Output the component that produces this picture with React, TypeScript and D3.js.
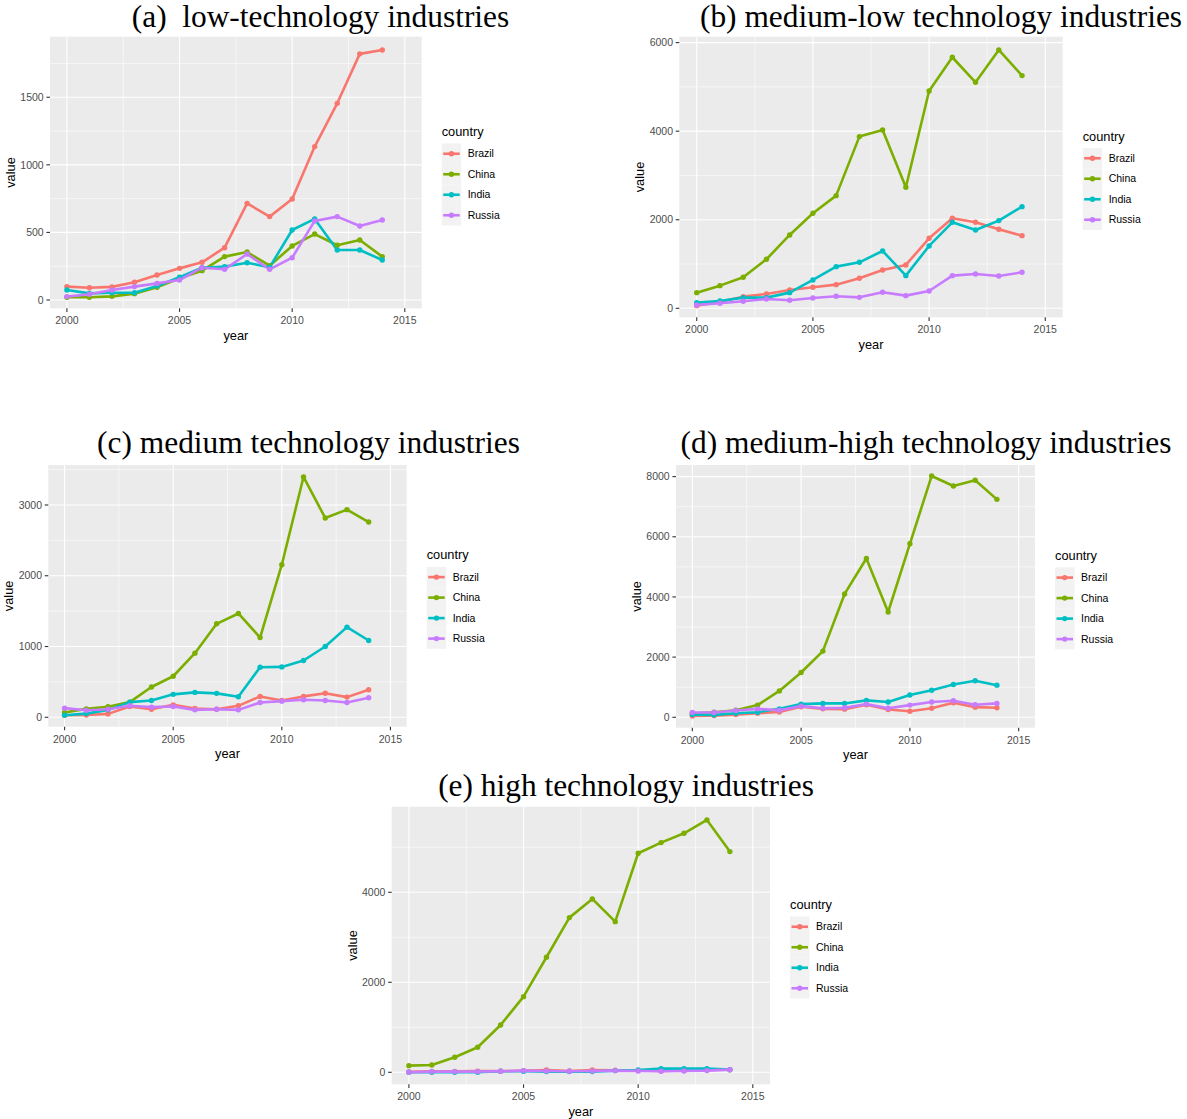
import React from "react";
import * as d3 from "d3";

// ---------- data ----------
const years = [2000, 2001, 2002, 2003, 2004, 2005, 2006, 2007, 2008, 2009, 2010, 2011, 2012, 2013, 2014];
const countries = ["Brazil", "China", "India", "Russia"];
const countryColors = ["#F8766D", "#7CAE00", "#00BFC4", "#C77CFF"];
const xTicks = [2000, 2005, 2010, 2015];
const xMinor = [2002.5, 2007.5, 2012.5];

// (a) low-technology
const lowBrazil = [99, 91, 97, 131, 185, 234, 279, 387, 715, 617, 747, 1135, 1455, 1821, 1850];
const lowChina = [20, 20, 27, 47, 94, 160, 217, 321, 355, 254, 400, 488, 405, 444, 321];
const lowIndia = [74, 49, 54, 54, 104, 168, 239, 247, 276, 242, 518, 600, 370, 370, 296];
const lowRussia = [25, 42, 74, 99, 123, 148, 239, 227, 340, 227, 313, 585, 617, 548, 592];
const lowTicks = [0, 500, 1000, 1500];

// (b) medium-low technology
const medLowBrazil = [60, 150, 263, 324, 414, 474, 534, 678, 866, 979, 1581, 2033, 1942, 1784, 1641];
const medLowChina = [354, 512, 700, 1107, 1656, 2145, 2544, 3877, 4027, 2733, 4908, 5669, 5104, 5834, 5255];
const medLowIndia = [128, 166, 241, 241, 354, 640, 941, 1039, 1295, 738, 1408, 1942, 1769, 1980, 2296];
const medLowRussia = [75, 113, 158, 211, 181, 233, 271, 248, 361, 286, 391, 738, 775, 730, 813];
const medLowTicks = [0, 2000, 4000, 6000];

// (c) medium technology
const medBrazil = [29, 33, 48, 152, 114, 176, 124, 114, 162, 295, 238, 295, 340, 285, 390];
const medChina = [67, 119, 148, 214, 428, 580, 906, 1321, 1467, 1127, 2156, 3396, 2816, 2934, 2759];
const medIndia = [29, 52, 105, 214, 238, 324, 352, 338, 290, 708, 712, 802, 1000, 1274, 1085];
const medRussia = [129, 100, 114, 162, 143, 152, 105, 114, 105, 209, 228, 248, 238, 209, 276];
const medTicks = [0, 1000, 2000, 3000];

// (d) medium-high technology
const medHighBrazil = [45, 56, 90, 135, 180, 348, 281, 270, 416, 259, 202, 303, 483, 337, 315];
const medHighChina = [124, 169, 236, 405, 877, 1489, 2200, 4100, 5278, 3500, 5767, 8022, 7689, 7878, 7244];
const medHighIndia = [90, 79, 135, 169, 281, 438, 461, 461, 562, 506, 742, 899, 1090, 1214, 1068];
const medHighRussia = [157, 157, 225, 281, 236, 371, 303, 315, 438, 303, 405, 506, 551, 416, 461];
const medHighTicks = [0, 2000, 4000, 6000, 8000];

// (e) high technology
const highBrazil = [10, 20, 20, 25, 25, 35, 50, 30, 50, 45, 40, 30, 40, 50, 55];
const highChina = [148, 163, 333, 556, 1052, 1681, 2556, 3437, 3852, 3348, 4867, 5104, 5311, 5607, 4904];
const highIndia = [0, 0, 0, 0, 22, 22, 15, 15, 15, 37, 52, 82, 82, 82, 59];
const highRussia = [0, 15, 15, 15, 22, 37, 30, 22, 30, 37, 30, 22, 30, 37, 59];
const highTicks = [0, 2000, 4000];

// ---------- layout ----------
const panels = [
  { title: "(a)  low-technology industries", tx: 320.5, ty: 27, box: [50, 36.7, 421.7, 308.3], yDomain: [-61.4, 1948], ticks: lowTicks, series: [lowBrazil, lowChina, lowIndia, lowRussia] },
  { title: "(b) medium-low technology industries", tx: 941, ty: 27, box: [679.3, 36.7, 1062.7, 317.3], yDomain: [-203, 6133], ticks: medLowTicks, series: [medLowBrazil, medLowChina, medLowIndia, medLowRussia] },
  { title: "(c) medium technology industries", tx: 308.5, ty: 453, box: [48.3, 465, 406.7, 726.7], yDomain: [-133, 3565], ticks: medTicks, series: [medBrazil, medChina, medIndia, medRussia] },
  { title: "(d) medium-high technology industries", tx: 926, ty: 453, box: [676, 465, 1035, 727.7], yDomain: [-346, 8386], ticks: medHighTicks, series: [medHighBrazil, medHighChina, medHighIndia, medHighRussia] },
  { title: "(e) high technology industries", tx: 626, ty: 796, box: [391.7, 806.7, 770, 1084.3], yDomain: [-267, 5902], ticks: highTicks, series: [highBrazil, highChina, highIndia, highRussia] },
];

const SANS = "'Liberation Sans', Arial, Helvetica, sans-serif";
const SERIF = "'Liberation Serif', 'Times New Roman', Times, serif";

function Panel({ cfg }: { cfg: any }) {
  const [x0, y0, x1, y1] = cfg.box;
  const x = d3.scaleLinear().domain([1999.25, 2015.75]).range([x0, x1]);
  const y = d3.scaleLinear().domain(cfg.yDomain).range([y1, y0]);
  const step = cfg.ticks[1] - cfg.ticks[0];
  const yMinor = [cfg.ticks[0] - step / 2, ...cfg.ticks.map((t: number) => t + step / 2)].filter(
    (v: number) => v > cfg.yDomain[0] && v < cfg.yDomain[1]
  );
  const line = d3
    .line<number>()
    .x((_, i) => x(years[i]))
    .y((d) => y(d));

  const keyW = 19.5;
  const keyH = 20.5;
  const legX = x1 + 20;
  const cy = (y0 + y1) / 2;
  const keysTop = cy - 2 * keyH + 12;

  return (
    <g>
      <text x={cfg.tx} y={cfg.ty} textAnchor="middle" fontFamily={SERIF} fontSize={31.4} fill="#000" style={{ whiteSpace: "pre" }}>
        {cfg.title}
      </text>
      <rect x={x0} y={y0} width={x1 - x0} height={y1 - y0} fill="#EBEBEB" />
      {yMinor.map((v: number) => (
        <line key={"ym" + v} x1={x0} x2={x1} y1={y(v)} y2={y(v)} stroke="#fff" strokeWidth={0.55} />
      ))}
      {xMinor.map((v) => (
        <line key={"xm" + v} x1={x(v)} x2={x(v)} y1={y0} y2={y1} stroke="#fff" strokeWidth={0.55} />
      ))}
      {cfg.ticks.map((v: number) => (
        <line key={"yM" + v} x1={x0} x2={x1} y1={y(v)} y2={y(v)} stroke="#fff" strokeWidth={1.1} />
      ))}
      {xTicks.map((v) => (
        <line key={"xM" + v} x1={x(v)} x2={x(v)} y1={y0} y2={y1} stroke="#fff" strokeWidth={1.1} />
      ))}
      {cfg.series.map((s: number[], i: number) => (
        <path key={"l" + i} d={line(s) || ""} fill="none" stroke={countryColors[i]} strokeWidth={2.6} strokeLinejoin="round" />
      ))}
      {cfg.series.map((s: number[], i: number) =>
        s.map((v, j) => <circle key={"p" + i + "-" + j} cx={x(years[j])} cy={y(v)} r={2.7} fill={countryColors[i]} />)
      )}
      {/* axes */}
      {xTicks.map((v) => (
        <g key={"xt" + v}>
          <line x1={x(v)} x2={x(v)} y1={y1} y2={y1 + 3.6} stroke="#333" strokeWidth={1.1} />
          <text x={x(v)} y={y1 + 16} textAnchor="middle" fontFamily={SANS} fontSize={10.5} fill="#4D4D4D">
            {v}
          </text>
        </g>
      ))}
      {cfg.ticks.map((v: number) => (
        <g key={"yt" + v}>
          <line x1={x0 - 3.6} x2={x0} y1={y(v)} y2={y(v)} stroke="#333" strokeWidth={1.1} />
          <text x={x0 - 6.3} y={y(v) + 3.7} textAnchor="end" fontFamily={SANS} fontSize={10.5} fill="#4D4D4D">
            {v}
          </text>
        </g>
      ))}
      <text x={(x0 + x1) / 2} y={y1 + 31.5} textAnchor="middle" fontFamily={SANS} fontSize={12.8} fill="#000">
        year
      </text>
      <text
        transform={`translate(${x0 - 35},${(y0 + y1) / 2}) rotate(-90)`}
        textAnchor="middle"
        fontFamily={SANS}
        fontSize={12.8}
        fill="#000"
      >
        value
      </text>
      {/* legend */}
      <text x={legX} y={keysTop - 7.5} fontFamily={SANS} fontSize={12.8} fill="#000">
        country
      </text>
      {countries.map((c, i) => {
        const ky = keysTop + i * keyH;
        return (
          <g key={"lg" + c}>
            <rect x={legX} y={ky} width={keyW} height={keyH} fill="#F2F2F2" />
            <line x1={legX + 1.5} x2={legX + keyW - 1.5} y1={ky + keyH / 2} y2={ky + keyH / 2} stroke={countryColors[i]} strokeWidth={2.6} />
            <circle cx={legX + keyW / 2} cy={ky + keyH / 2} r={2.7} fill={countryColors[i]} />
            <text x={legX + 26} y={ky + keyH / 2 + 3.7} fontFamily={SANS} fontSize={10.5} fill="#000">
              {c}
            </text>
          </g>
        );
      })}
    </g>
  );
}

export default function App() {
  return (
    <svg
      width={1187}
      height={1119}
      viewBox="0 0 1187 1119"
      style={{ position: "absolute", left: 0, top: 0, background: "#fff" }}
    >
      <rect x={0} y={0} width={1187} height={1119} fill="#fff" />
      {panels.map((p, i) => (
        <Panel key={i} cfg={p} />
      ))}
    </svg>
  );
}
